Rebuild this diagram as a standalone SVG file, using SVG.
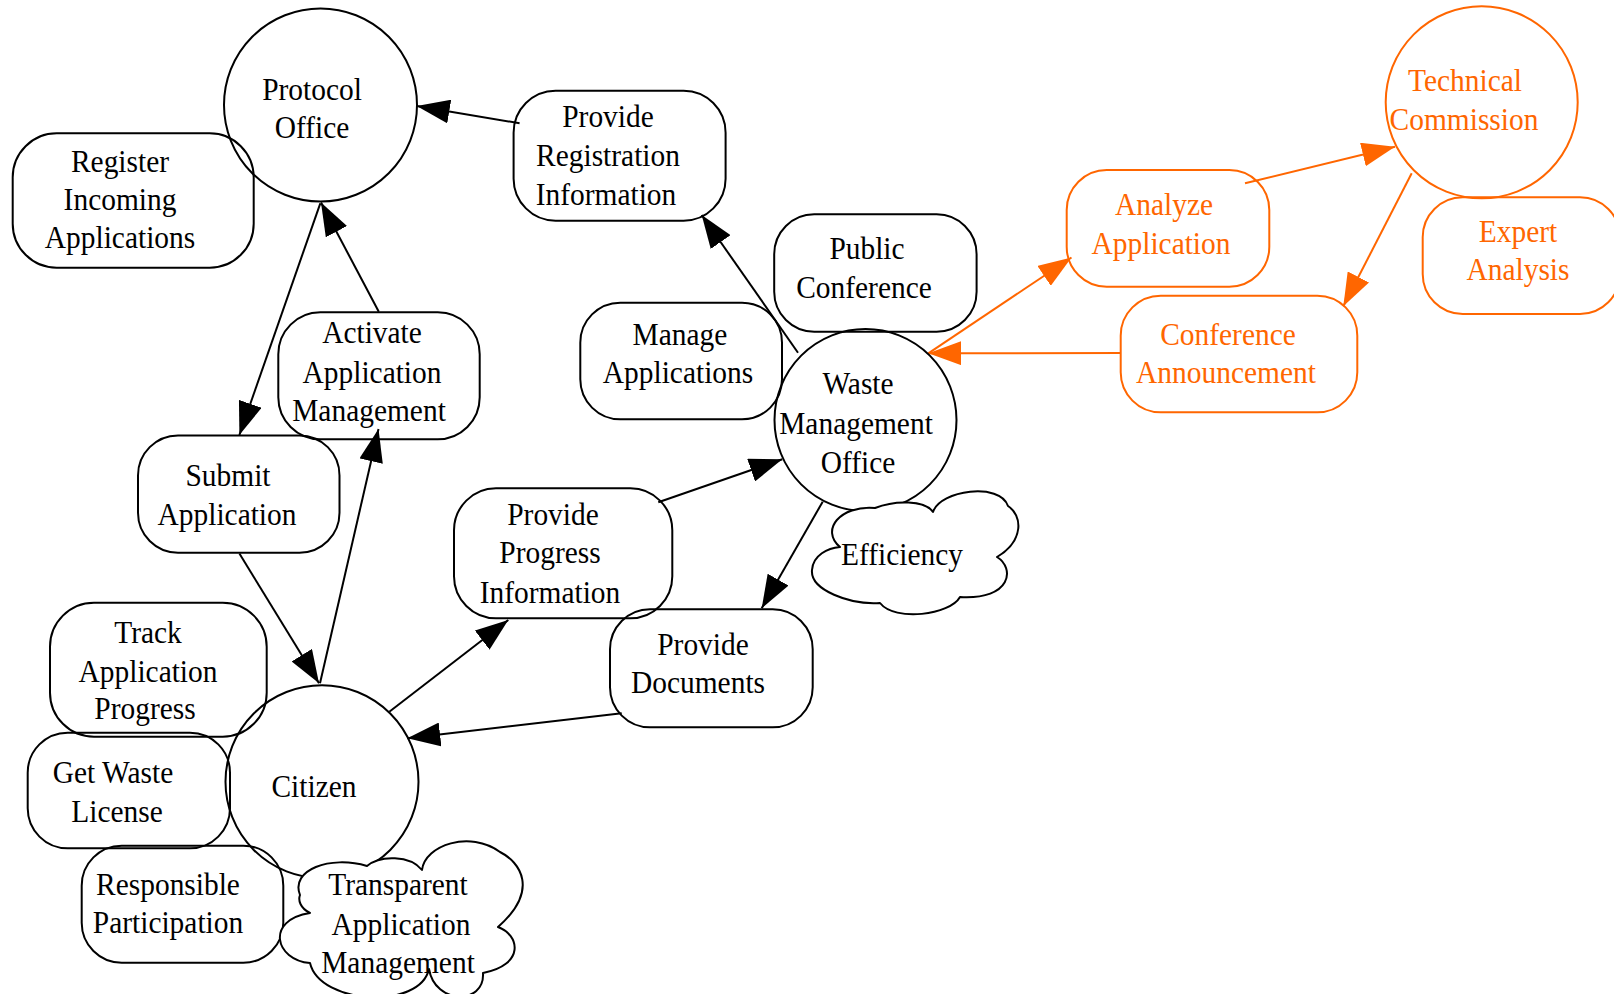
<svg xmlns="http://www.w3.org/2000/svg" width="1614" height="994" viewBox="0 0 1614 994">
  <style>
    .shape { fill: none; stroke: #000; stroke-width: 2; }
    .cloud { fill: #fff; stroke: #000; stroke-width: 2; stroke-linejoin: round; }
    .orange .shape { stroke: #ff6600; }
    .label { font-family: "Liberation Serif", "Times New Roman", serif; font-size: 32px; text-anchor: middle; fill: #000; }
    .orange .label { fill: #ff6600; }
    .edge { fill: none; stroke: #000; stroke-width: 2; }
    .edge.orange-edge { stroke: #ff6600; }
  </style>
  <defs>
    <marker id="arrow-black" viewBox="0 0 33 24" refX="33" refY="12" markerWidth="33" markerHeight="24" markerUnits="userSpaceOnUse" orient="auto">
      <path d="M0,0 L33,12 L0,24 z" fill="#000"/>
    </marker>
    <marker id="arrow-orange" viewBox="0 0 33 24" refX="33" refY="12" markerWidth="33" markerHeight="24" markerUnits="userSpaceOnUse" orient="auto">
      <path d="M0,0 L33,12 L0,24 z" fill="#ff6600"/>
    </marker>
  </defs>
  <rect width="1614" height="994" fill="#fff"/>

  <!-- connectors -->
  <g id="connectors">
    <path class="edge" d="M519.6,123.3 L416.7,106" marker-end="url(#arrow-black)"/>
    <path class="edge" d="M320.3,203.3 L239.4,435" marker-end="url(#arrow-black)"/>
    <path class="edge" d="M378.8,311.7 L321,202.5" marker-end="url(#arrow-black)"/>
    <path class="edge" d="M798,352.7 L701.7,215" marker-end="url(#arrow-black)"/>
    <path class="edge" d="M239.4,553.6 L319,683.3" marker-end="url(#arrow-black)"/>
    <path class="edge" d="M320,683.3 L378.5,429" marker-end="url(#arrow-black)"/>
    <path class="edge" d="M389.3,711.7 L508.3,620" marker-end="url(#arrow-black)"/>
    <path class="edge" d="M658.3,502.3 L782.3,459.3" marker-end="url(#arrow-black)"/>
    <path class="edge" d="M822.7,501.7 L761.7,608.3" marker-end="url(#arrow-black)"/>
    <path class="edge" d="M621.7,713.3 L407.3,738.3" marker-end="url(#arrow-black)"/>
    <path class="edge orange-edge" d="M928.3,353.3 L1071.5,257.5" marker-end="url(#arrow-orange)"/>
    <path class="edge orange-edge" d="M1245,183.3 L1395,146.7" marker-end="url(#arrow-orange)"/>
    <path class="edge orange-edge" d="M1411.7,173.3 L1343.3,306.3" marker-end="url(#arrow-orange)"/>
    <path class="edge orange-edge" d="M1120.7,353 L928.3,353.3" marker-end="url(#arrow-orange)"/>
  </g>

  <!-- actors (circles) -->
  <g id="protocol-office">
    <circle class="shape" cx="320.5" cy="105" r="96.5"/>
    <text class="label" transform="translate(312,100) scale(0.92,1)">Protocol</text>
    <text class="label" transform="translate(312,138.3) scale(0.92,1)">Office</text>
  </g>
  <g id="waste-management-office">
    <circle class="shape" cx="865.5" cy="420" r="91"/>
    <text class="label" transform="translate(858,394.3) scale(0.92,1)">Waste</text>
    <text class="label" transform="translate(856,434) scale(0.92,1)">Management</text>
    <text class="label" transform="translate(858,473.3) scale(0.92,1)">Office</text>
  </g>
  <g id="citizen">
    <circle class="shape" cx="322" cy="781.7" r="96.5"/>
    <text class="label" transform="translate(314,796.7) scale(0.92,1)">Citizen</text>
  </g>
  <g id="technical-commission" class="orange">
    <circle class="shape" cx="1481.7" cy="102.3" r="96"/>
    <text class="label" transform="translate(1465,90.7) scale(0.92,1)">Technical</text>
    <text class="label" transform="translate(1464,130) scale(0.92,1)">Commission</text>
  </g>

  <!-- tasks (rounded boxes) -->
  <g id="register-incoming-applications">
    <rect class="shape" x="12.7" y="133.3" width="241" height="134.4" rx="44" ry="44"/>
    <text class="label" transform="translate(120,171.7) scale(0.92,1)">Register</text>
    <text class="label" transform="translate(120,210) scale(0.92,1)">Incoming</text>
    <text class="label" transform="translate(120,248.3) scale(0.92,1)">Applications</text>
  </g>
  <g id="provide-registration-information">
    <rect class="shape" x="513.6" y="90.7" width="212" height="130" rx="42" ry="42"/>
    <text class="label" transform="translate(608,127) scale(0.92,1)">Provide</text>
    <text class="label" transform="translate(608,166) scale(0.92,1)">Registration</text>
    <text class="label" transform="translate(606,205) scale(0.92,1)">Information</text>
  </g>
  <g id="public-conference">
    <rect class="shape" x="774.2" y="214.3" width="202.4" height="117.4" rx="40" ry="40"/>
    <text class="label" transform="translate(867,259.3) scale(0.92,1)">Public</text>
    <text class="label" transform="translate(864,297.7) scale(0.92,1)">Conference</text>
  </g>
  <g id="manage-applications">
    <rect class="shape" x="580.3" y="302.7" width="201.7" height="116.6" rx="40" ry="40"/>
    <text class="label" transform="translate(680,345) scale(0.92,1)">Manage</text>
    <text class="label" transform="translate(678,383.3) scale(0.92,1)">Applications</text>
  </g>
  <g id="activate-application-management">
    <rect class="shape" x="278.3" y="312.3" width="201.4" height="127" rx="42" ry="42"/>
    <text class="label" transform="translate(372,343) scale(0.92,1)">Activate</text>
    <text class="label" transform="translate(372,382.7) scale(0.92,1)">Application</text>
    <text class="label" transform="translate(369,420.7) scale(0.92,1)">Management</text>
  </g>
  <g id="submit-application">
    <rect class="shape" x="138" y="435.4" width="201.5" height="117.3" rx="40" ry="40"/>
    <text class="label" transform="translate(228,486) scale(0.92,1)">Submit</text>
    <text class="label" transform="translate(227,525) scale(0.92,1)">Application</text>
  </g>
  <g id="provide-progress-information">
    <rect class="shape" x="454" y="488.3" width="218.3" height="130" rx="42" ry="42"/>
    <text class="label" transform="translate(553,525) scale(0.92,1)">Provide</text>
    <text class="label" transform="translate(550,563.3) scale(0.92,1)">Progress</text>
    <text class="label" transform="translate(550,602.7) scale(0.92,1)">Information</text>
  </g>
  <g id="provide-documents">
    <rect class="shape" x="610" y="609.3" width="202.7" height="118" rx="40" ry="40"/>
    <text class="label" transform="translate(703,655) scale(0.92,1)">Provide</text>
    <text class="label" transform="translate(698,693.3) scale(0.92,1)">Documents</text>
  </g>
  <g id="track-application-progress">
    <rect class="shape" x="50" y="602.7" width="216.7" height="134" rx="44" ry="44"/>
    <text class="label" transform="translate(148,643.3) scale(0.92,1)">Track</text>
    <text class="label" transform="translate(148,681.7) scale(0.92,1)">Application</text>
    <text class="label" transform="translate(145,719.3) scale(0.92,1)">Progress</text>
  </g>
  <g id="get-waste-license">
    <rect class="shape" x="27.7" y="732.7" width="202.3" height="115.6" rx="40" ry="40"/>
    <text class="label" transform="translate(113,782.7) scale(0.92,1)">Get Waste</text>
    <text class="label" transform="translate(117,821.7) scale(0.92,1)">License</text>
  </g>
  <g id="responsible-participation">
    <rect class="shape" x="81.7" y="845.7" width="201.6" height="117" rx="40" ry="40"/>
    <text class="label" transform="translate(168,895) scale(0.92,1)">Responsible</text>
    <text class="label" transform="translate(168,933.3) scale(0.92,1)">Participation</text>
  </g>
  <g id="analyze-application" class="orange">
    <rect class="shape" x="1066.7" y="170" width="202.6" height="116.7" rx="40" ry="40"/>
    <text class="label" transform="translate(1164,215) scale(0.92,1)">Analyze</text>
    <text class="label" transform="translate(1161,254) scale(0.92,1)">Application</text>
  </g>
  <g id="expert-analysis" class="orange">
    <rect class="shape" x="1422.7" y="197.3" width="197.3" height="116.7" rx="40" ry="40"/>
    <text class="label" transform="translate(1518,241.7) scale(0.92,1)">Expert</text>
    <text class="label" transform="translate(1518,280) scale(0.92,1)">Analysis</text>
  </g>
  <g id="conference-announcement" class="orange">
    <rect class="shape" x="1120.7" y="295.7" width="236.6" height="116.6" rx="40" ry="40"/>
    <text class="label" transform="translate(1228,345) scale(0.92,1)">Conference</text>
    <text class="label" transform="translate(1226,383.3) scale(0.92,1)">Announcement</text>
  </g>

  <!-- goals (clouds) -->
  <g id="efficiency">
    <path class="cloud" d="M840,547 C820,530 840,505 875,508 C895,500 925,500 933,512 C940,490 1000,482 1008,506 C1022,515 1025,540 997,557 C1015,568 1012,600 960,597 C950,615 895,622 880,603 C850,605 810,590 812,570 C813,555 828,548 840,547 Z"/>
    <text class="label" transform="translate(902,565) scale(0.92,1)">Efficiency</text>
  </g>
  <g id="transparent-application-management">
    <path class="cloud" d="M300,895 C290,870 330,855 367,866 C380,855 410,855 422,870 C425,845 470,830 500,852 C520,862 540,890 498,927 C520,935 525,965 483,973 C485,1005 435,1005 429,969 C420,1010 320,1005 310,963 C275,960 265,920 310,913 C300,908 298,900 300,895 Z"/>
    <text class="label" transform="translate(398,895) scale(0.92,1)">Transparent</text>
    <text class="label" transform="translate(401,935) scale(0.92,1)">Application</text>
    <text class="label" transform="translate(398,973.3) scale(0.92,1)">Management</text>
  </g>
</svg>
